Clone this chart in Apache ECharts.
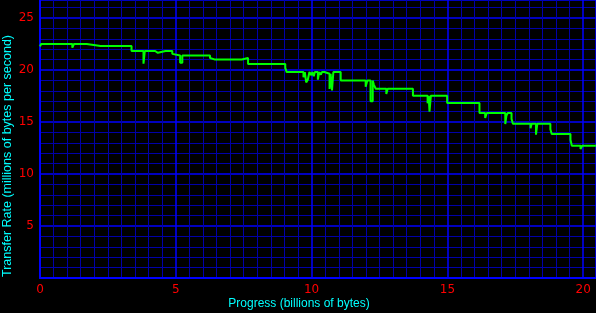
<!DOCTYPE html>
<html>
<head>
<meta charset="utf-8">
<script src="https://cdn.jsdelivr.net/npm/echarts@6/dist/echarts.min.js"></script>
<style>
html,body{margin:0;padding:0;background:#000;}
#c{width:596px;height:313px;}
</style>
</head>
<body>
<div id="c"></div>
<script>
// Progress (billions of bytes) — each rate value holds until the next progress value
var progress = [0.00,0.04,0.68,0.73,1.19,1.25,1.72,2.23,2.28,3.37,3.81,3.86,4.24,4.34,4.62,4.68,4.87,4.93,5.16,5.24,
  6.26,6.33,6.45,6.52,6.65,6.72,6.85,6.92,7.05,7.12,7.25,7.32,7.43,7.66,8.15,8.20,9.03,9.08,
  9.70,9.75,9.80,9.86,9.92,9.99,10.03,10.08,10.12,10.23,10.28,10.34,10.38,10.47,10.66,10.70,10.75,10.80,
  11.07,11.99,12.05,12.17,12.25,12.29,12.36,12.75,12.80,13.73,14.27,14.31,14.34,14.39,14.50,14.55,
  14.99,15.64,15.68,15.85,15.89,16.18,16.39,16.45,16.60,16.65,16.75,16.80,17.13,17.17,17.22,17.36,17.41,
  18.06,18.10,18.26,18.31,18.79,18.84,19.53,19.58,19.90,19.96,20.10,20.14,20.47];
// Transfer rate (millions of bytes per second)
var rate = [22.27,22.50,22.40,22.50,22.15,22.50,22.31,22.20,22.31,21.83,20.60,21.83,21.65,21.83,21.65,21.83,21.55,21.40,20.70,21.40,
  21.15,21.00,20.88,21.00,20.88,21.00,20.88,21.00,20.88,21.00,20.88,21.00,21.15,20.58,20.50,20.58,20.20,19.80,
  19.30,19.80,18.80,19.07,19.80,19.50,19.80,19.40,19.80,19.07,19.80,19.55,19.80,19.64,18.17,19.64,18.04,19.80,
  19.00,18.40,19.00,17.00,19.00,18.60,18.20,17.70,18.20,17.53,16.80,17.53,16.00,17.53,17.45,17.53,
  16.83,16.70,16.83,16.70,16.83,15.87,15.38,15.87,15.75,15.87,15.75,15.87,14.80,15.60,15.87,15.30,14.84,
  14.40,14.84,13.78,14.84,14.30,13.85,13.30,12.72,12.40,12.72,12.55,12.72,12.72];
var xTicks = [0, 5, 10, 15, 20];
var yTicks = [5, 10, 15, 20, 25];

var pts = progress.map(function (p, i) { return [p, rate[i]]; });
var chart = echarts.init(document.getElementById('c'), null, {renderer: 'canvas'});
var labelFont = {color: '#ff0000', fontSize: 12, fontFamily: 'DejaVu Sans'};
chart.setOption({
  backgroundColor: '#000000',
  animation: false,
  grid: {left: 40, right: -1, top: 0, bottom: 35, containLabel: false},
  xAxis: {
    type: 'value', min: 0, max: 20.47, interval: 5,
    axisLine: {show: true, onZero: false, lineStyle: {color: '#0000ff', width: 2}},
    axisTick: {show: false},
    axisLabel: Object.assign({margin: 6, showMaxLabel: false,
      formatter: function (v) { return xTicks.indexOf(v) >= 0 ? String(v) : ''; }}, labelFont),
    splitLine: {show: true, lineStyle: {color: '#0000ff', width: 1.5}},
    minorTick: {show: false, splitNumber: 10},
    minorSplitLine: {show: true, lineStyle: {color: '#0000a8', width: 1}}
  },
  yAxis: {
    type: 'value', min: 0, max: 26.73, interval: 5,
    axisLine: {show: true, onZero: false, lineStyle: {color: '#0000ff', width: 2}},
    axisTick: {show: false},
    axisLabel: Object.assign({margin: 6, showMaxLabel: false,
      formatter: function (v) { return yTicks.indexOf(v) >= 0 ? String(v) : ''; }}, labelFont),
    splitLine: {show: true, lineStyle: {color: '#0000ff', width: 1.5}},
    minorTick: {show: false, splitNumber: 5},
    minorSplitLine: {show: true, lineStyle: {color: '#0000a8', width: 1}}
  },
  graphic: [
    {type: 'text', x: 8, y: 156, rotation: Math.PI / 2,
     style: {text: 'Transfer Rate (millions of bytes per second)', fill: '#00ffff', font: '12.5px "Liberation Sans"', textAlign: 'center', textVerticalAlign: 'middle'}},
    {type: 'text', x: 299, y: 304,
     style: {text: 'Progress (billions of bytes)', fill: '#00ffff', font: '12px "Liberation Sans"', textAlign: 'center', textVerticalAlign: 'middle'}}
  ],
  series: [{
    type: 'line', data: pts, step: 'end', showSymbol: false, symbol: 'none',
    lineStyle: {color: '#00ff00', width: 2}, z: 5
  }]
});
</script>
</body>
</html>
